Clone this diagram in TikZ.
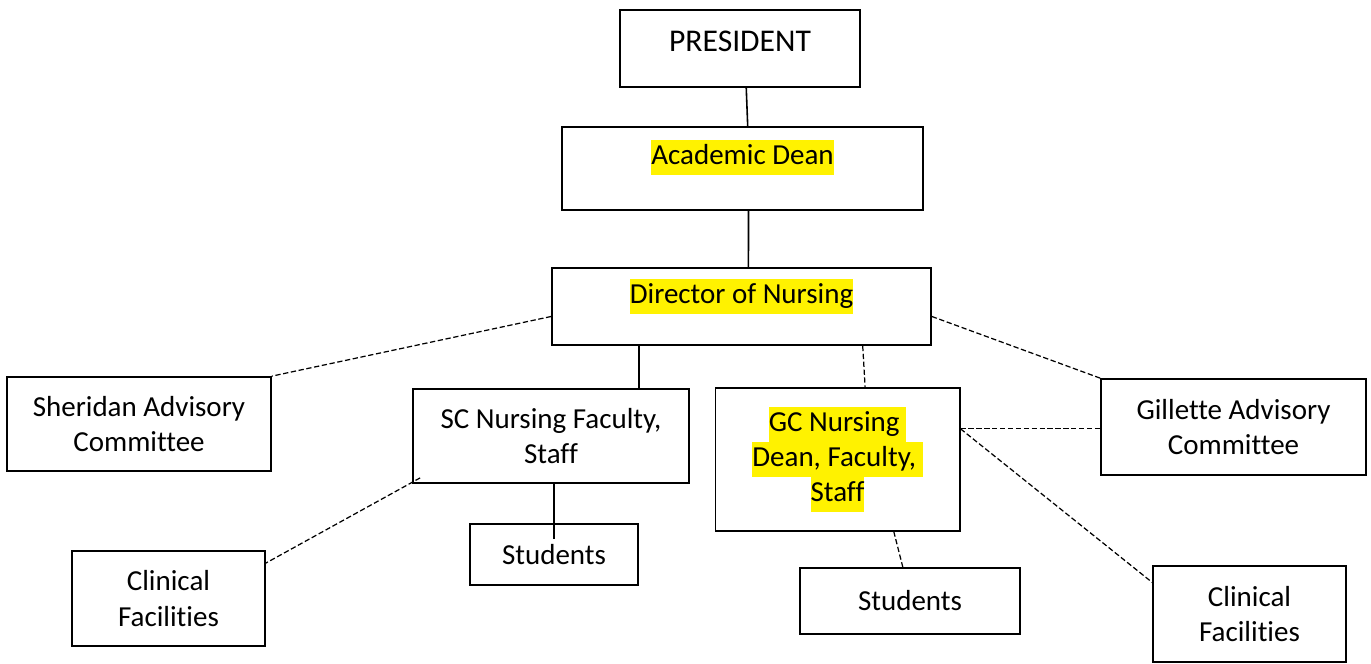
\documentclass[tikz,border=0pt]{standalone}
\usepackage{fontspec}
\setmainfont[Ligatures=NoCommon]{Carlito}
\usepackage{xcolor}
\usetikzlibrary{calc,positioning}
\newcommand{\hilite}[1]{{\setlength{\fboxsep}{0pt}\colorbox{yellow}{\strut#1}}}
\tikzset{%
  office/.style={draw,line width=1pt,align=center,inner sep=2pt},
  thinoffice/.style={office,line width=0.6pt},
  link/.style={line width=0.9pt},
  advise/.style={line width=0.7pt,dash pattern=on 3pt off 1.5pt},
}

\begin{document}
\begin{tikzpicture}[x=0.02cm,y=-0.02cm,font=\fontsize{16.5}{20}\selectfont]
      \useasboundingbox (0,0) rectangle (1371,663);

      \node[office,minimum width=4.8cm,minimum height=1.54cm,text depth=8pt,font=\fontsize{18}{22}\selectfont] (pres) at (740,48.5) {PRESIDENT};
      \node[office,minimum width=7.22cm,minimum height=1.66cm,text depth=19pt] (dean) at (742.5,168.5) {\hilite{Academic Dean}};
      \node[office,minimum width=7.58cm,minimum height=1.54cm,text depth=17pt] (dir) at (741.5,306.5) {\hilite{Director of Nursing}};
      \node[office,minimum width=5.28cm,minimum height=1.88cm] (sher) at (139,424) {Sheridan Advisory\\Committee};
      \node[office,minimum width=5.52cm,minimum height=1.88cm] (sc) at (551,436) {SC Nursing Faculty,\\Staff};
      \node[thinoffice,minimum width=4.9cm,minimum height=2.86cm] (gc) at (837.5,459.5) {\hilite{GC Nursing\ }\\\hilite{Dean, Faculty,\ }\\\hilite{Staff}};
      \node[office,minimum width=5.3cm,minimum height=1.92cm] (gil) at (1233.5,427) {Gillette Advisory\\Committee};
      \node[office,minimum width=3.86cm,minimum height=1.9cm] (clinL) at (168.5,598.5) {Clinical\\Facilities};
      \node[office,minimum width=3.36cm,minimum height=1.22cm] (studL) at (554,554.5) {Students};
      \node[office,minimum width=4.4cm,minimum height=1.32cm] (studR) at (910,601) {Students};
      \node[office,minimum width=3.86cm,minimum height=1.92cm] (clinR) at (1249.5,614) {Clinical\\Facilities};

      \draw[link] (pres.-81.1) -- (dean.83.8);
      \draw[link] (dean.-82.5) -- (dir.80.4);
      \draw[link] (dir.201) -- (dir.201 |- sc.north);
      \draw[link] (sc.south -| studL.north) -- ([yshift=-9pt]studL.north);

      \draw[advise] (dir.183.5) -- (sher.north east);
      \draw[advise] (dir.-3.5) -- (gil.north west);
      \draw[advise] (dir.-18.3) -- (gc.69);
      \draw[advise] ([shift={(8,-6)}]sc.south west) -- (clinL.20);
      \draw[advise] (gc.14.4) -- (gc.14.4 -| gil.west);
      \draw[advise] (gc.14.4) -- (clinR.162);
      \draw[advise] (gc.-52.2) -- (studR.102);
    \end{tikzpicture}
\end{document}
